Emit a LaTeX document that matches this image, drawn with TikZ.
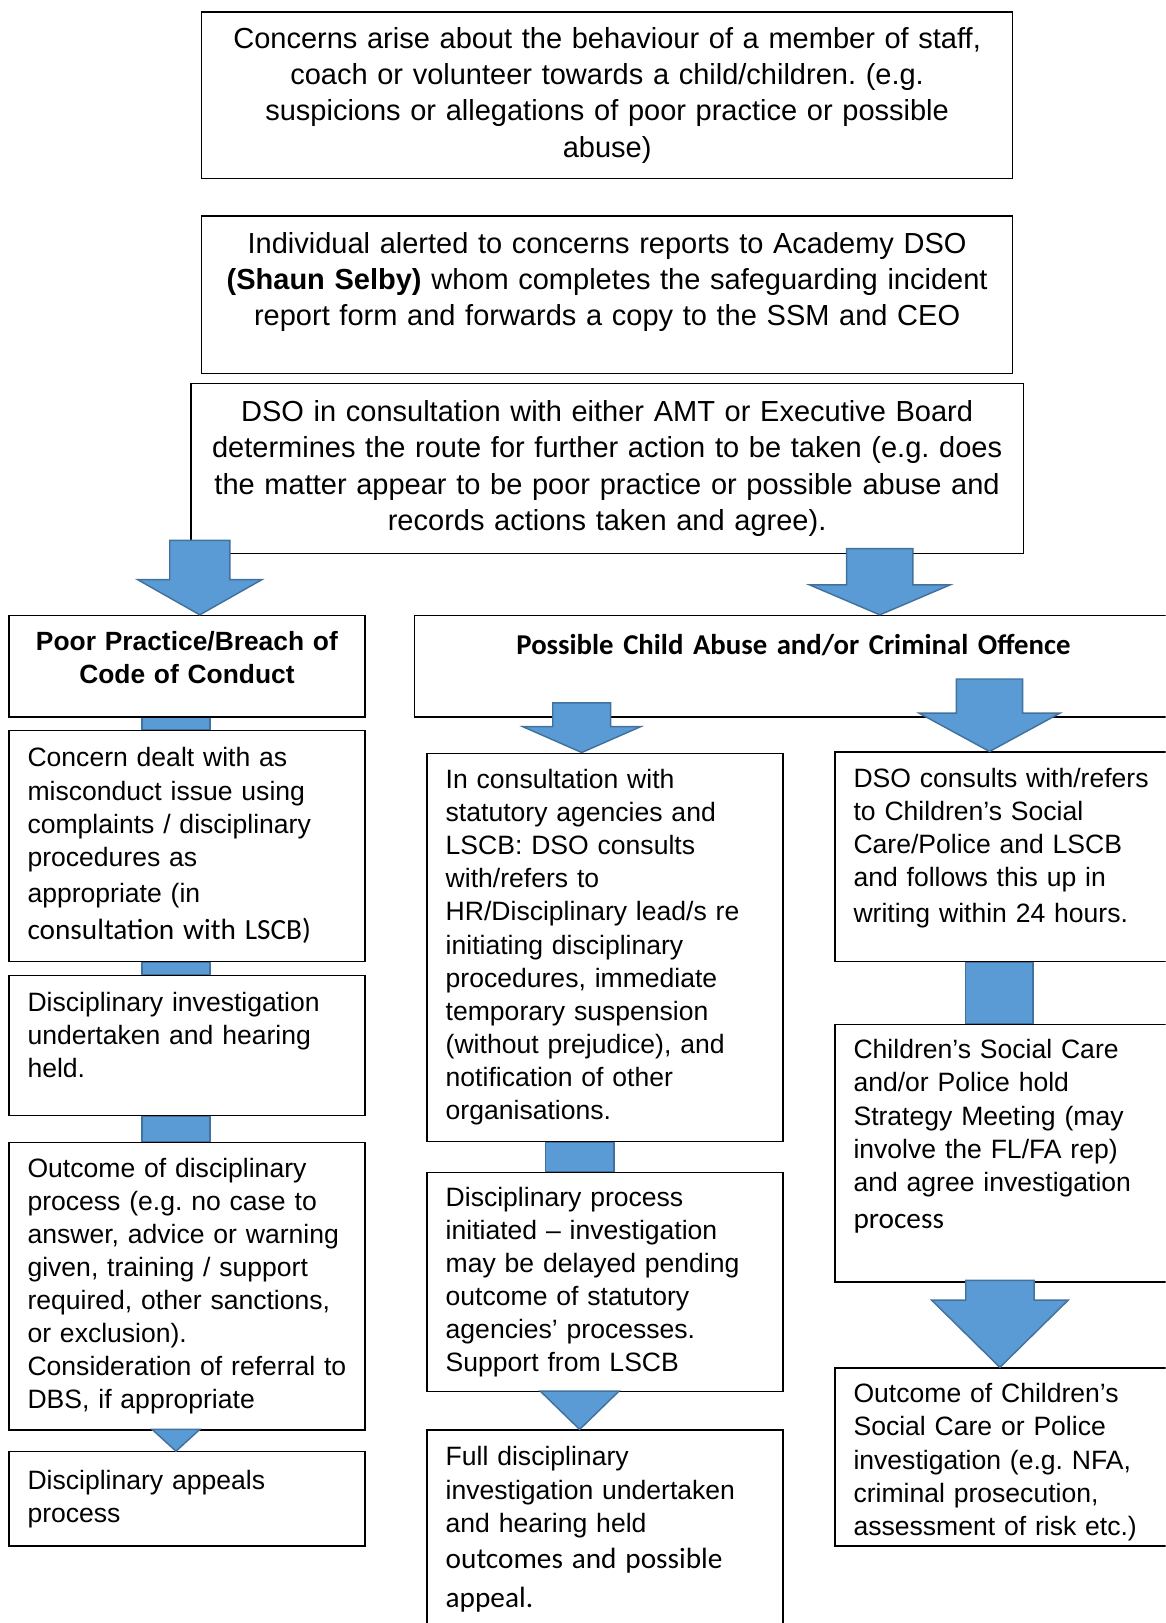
\documentclass[tikz,border=0pt]{standalone}
\usepackage{fontspec}
\setmainfont{Liberation Sans}
\newfontfamily\calibri{Carlito}
\frenchspacing
\usetikzlibrary{calc}
\definecolor{arrowblue}{HTML}{5B9BD5}
\definecolor{arrowedge}{HTML}{41719C}
\pgfdeclarelayer{background}
\pgfsetlayers{background,main}
\newcommand{\calfont}{\calibri\fontsize{16.1}{18.2}\selectfont}
\newcommand{\pushup}[1]{\par\vspace{#1}\nointerlineskip\hbox{}}
\tikzset{
  stepbox/.style={draw, line width=0.7pt, anchor=north west, inner xsep=0.36cm, inner ysep=0pt,
    text width=6.16cm, minimum width=6.88cm, align=left, font=\fontsize{14.6}{18.2}\selectfont},
  topbox/.style={stepbox, inner xsep=0.1cm, text width=15.48cm, minimum width=15.68cm,
    align=center, font=\fontsize{15.95}{19.9}\selectfont},
  headbox/.style={stepbox, inner xsep=0.1cm, text width=6.68cm, align=center,
    font=\bfseries\fontsize{14.5}{18.2}\selectfont},
  arrowfill/.style={fill=arrowblue, draw=arrowedge, line width=0.8pt}
}
\newcommand{\blockarrow}[6]{%
  \draw[arrowfill] (#1-#4,#2) -- (#1+#4,#2) -- (#1+#4,#3) -- (#1+#5,#3)
    -- (#1,0 |- #6.north) -- (#1-#5,#3) -- (#1-#4,#3) -- cycle;}

\begin{document}
\begin{tikzpicture}[x=0.02cm, y=-0.02cm]
    \useasboundingbox (0,0) rectangle (1126,1568);
    \clip (0,0) rectangle (1126,1568);
    \node[topbox, minimum height=3.22cm] (concern) at (194,11) {Concerns arise about the behaviour of a member of staff,\\ coach or volunteer towards a child/children. (e.g.\\ suspicions or allegations of poor practice or possible\\ abuse)};
    \node[topbox, minimum height=3.04cm] (report) at (194,208) {Individual alerted to concerns reports to Academy DSO\\ \textbf{(Shaun Selby)} whom completes the safeguarding incident\\ report form and forwards a copy to the SSM and CEO\pushup{0.48cm}};
    \node[topbox, text width=15.88cm, minimum width=16.08cm, minimum height=3.28cm] (route) at (184,370) {DSO in consultation with either AMT or Executive Board\\ determines the route for further action to be taken (e.g. does\\ the matter appear to be poor practice or possible abuse and\\ records actions taken and agree).};
    \node[headbox, minimum height=1.96cm] (poor) at (8,594) {Poor Practice/Breach of\\ Code of Conduct\pushup{0.32cm}};
    \node[headbox, text width=14.44cm, minimum width=14.64cm, minimum height=1.96cm, font=\calibri\bfseries\fontsize{15.8}{19}\selectfont] (abuse) at (400,594) {Possible Child Abuse and/or Criminal Offence\pushup{0.8cm}};
    \node[stepbox, minimum height=4.46cm] (misconduct) at (8,705) {Concern dealt with as\\ misconduct issue using\\ complaints / disciplinary\\ procedures as\\[1.5pt] appropriate (in\\[2.5pt] {\calfont consultation with LSCB)}};
    \node[stepbox, minimum height=2.7cm] (hearing) at (8,942) {Disciplinary investigation\\ undertaken and hearing\\ held.\pushup{0.4cm}};
    \node[stepbox, minimum height=5.56cm] (outcome) at (8,1103) {Outcome of disciplinary\\ process (e.g. no case to\\ answer, advice or warning\\ given, training / support\\ required, other sanctions,\\ or exclusion).\\ \mbox{Consideration of referral to}\\ DBS, if appropriate};
    \node[stepbox, minimum height=1.82cm] (appeals) at (8,1402) {Disciplinary appeals\\ process};
    \node[stepbox, minimum height=7.5cm] (agencies) at (412,727) {In consultation with\\ statutory agencies and\\ LSCB: DSO consults\\ with/refers to\\ HR/Disciplinary lead/s re\\ initiating disciplinary\\ procedures, immediate\\ temporary suspension\\ (without prejudice), and\\ notification of other\\ organisations.};
    \node[stepbox, minimum height=4.24cm] (process) at (412,1132) {Disciplinary process\\ initiated – investigation\\ may be delayed pending\\ outcome of statutory\\ agencies’ processes.\\ Support from LSCB};
    \node[stepbox, minimum height=4.2cm] (full) at (412,1381) {Full disciplinary\\ investigation undertaken\\ and hearing held\\[2pt] {\calfont outcomes and possible}\\[3pt] {\calfont appeal.}\pushup{0.36cm}};
    \node[stepbox, minimum height=4.04cm] (refers) at (806,726) {DSO consults with/refers\\ to Children’s Social\\ Care/Police and LSCB\\ and follows this up in\\[1.5pt] writing within 24 hours.\pushup{0.34cm}};
    \node[stepbox, minimum height=4.98cm] (strategy) at (806,989) {Children’s Social Care\\ and/or Police hold\\ Strategy Meeting (may\\ involve the FL/FA rep)\\ and agree investigation\\[2.5pt] {\calfont process}\pushup{0.64cm}};
    \node[stepbox, minimum height=3.44cm] (police) at (806,1321) {Outcome of Children’s\\ Social Care or Police\\ investigation (e.g. NFA,\\ criminal prosecution,\\ assessment of risk etc.)\pushup{-0.2cm}};
    \begin{pgfonlayer}{background}
      \draw[arrowfill] (137,0 |- poor.south) rectangle (203,0 |- misconduct.north);
      \draw[arrowfill] (137,0 |- misconduct.south) rectangle (203,0 |- hearing.north);
      \draw[arrowfill] (137,0 |- hearing.south) rectangle (203,0 |- outcome.north);
      \draw[arrowfill] (527,0 |- agencies.south) rectangle (593,0 |- process.north);
      \draw[arrowfill] (933,0 |- refers.south) rectangle (998,0 |- strategy.north);
    \end{pgfonlayer}
    \blockarrow{193}{522}{560}{29}{60}{poor}
    \blockarrow{850}{530}{565}{32}{68}{abuse}
    \blockarrow{562}{679}{702}{28}{57}{agencies}
    \blockarrow{956}{656}{689}{32}{68}{refers}
    \blockarrow{966}{1237}{1256}{33}{66}{police}
    \blockarrow{170}{1381}{1381}{0}{23}{appeals}
    \blockarrow{560}{1344}{1344}{0}{38}{full}
  \end{tikzpicture}
\end{document}
